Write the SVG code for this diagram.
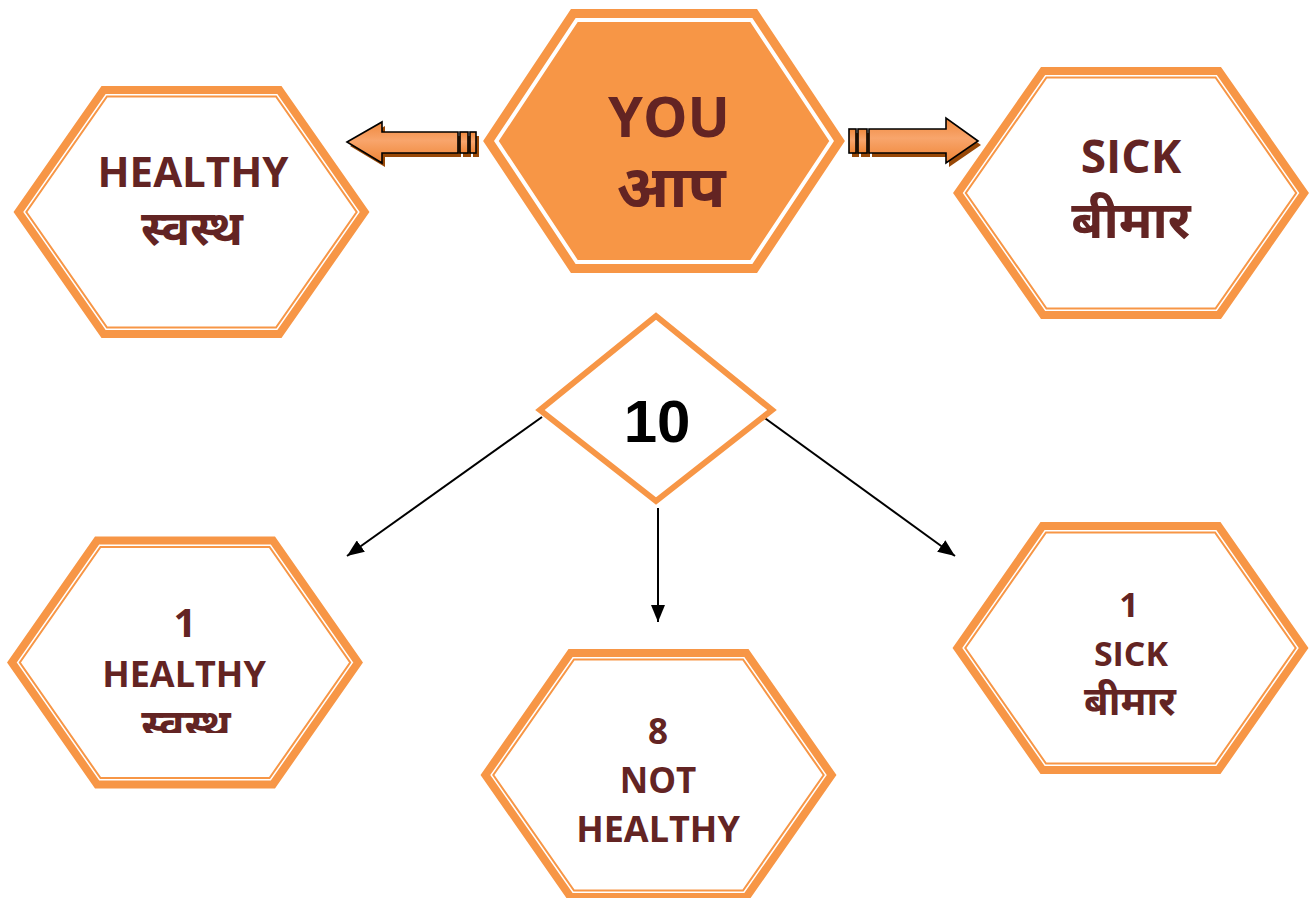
<svg xmlns="http://www.w3.org/2000/svg" width="1314" height="898" viewBox="0 0 1314 898">
<style>
.o{fill:#fff;stroke:#F79646;stroke-width:8;stroke-linejoin:miter}
.i{fill:none;stroke:#F79646;stroke-width:2}
.yo{fill:#F79646;stroke:#F79646;stroke-width:8}
.yi{fill:none;stroke:#fff;stroke-width:4}
.t{font-family:"Open Sans","Noto Sans Devanagari","Noto Sans",sans-serif;font-weight:bold;fill:#632423;text-anchor:middle}
.ba{fill:url(#g);stroke:#000;stroke-width:1.6;stroke-linejoin:miter}
.sh{fill:#984807}
.c{stroke:#000;stroke-width:2;fill:none;marker-end:url(#ah)}
</style>
<defs>
<linearGradient id="g" x1="0" y1="0" x2="0" y2="1">
<stop offset="0" stop-color="#F0883C"/>
<stop offset="0.45" stop-color="#F8A56C"/>
<stop offset="1" stop-color="#EF8434"/>
</linearGradient>
<polygon id="hO" points="-87.9,-122 87.9,-122 173.1,0 87.9,122 -87.9,122 -173.1,0"/>
<polygon id="hI" points="-84.5,-115.5 84.5,-115.5 165.2,0 84.5,115.5 -84.5,115.5 -165.2,0"/>
<marker id="ah" viewBox="0 0 17 14" refX="17" refY="7" markerWidth="17" markerHeight="14" orient="auto" markerUnits="userSpaceOnUse">
<path d="M0,0 L17,7 L0,14 Z" fill="#000"/>
</marker>
<clipPath id="cYou"><rect x="560" y="150" width="220" height="57"/></clipPath>
<clipPath id="cH2"><rect x="100" y="690" width="180" height="43"/></clipPath>
</defs>

<g id="connectors">
<line class="c" x1="542" y1="417" x2="347" y2="556"/>
<line class="c" x1="658" y1="508" x2="658" y2="622"/>
<line class="c" x1="762" y1="416" x2="955" y2="556"/>
</g>

<g id="arrow-left">
<path class="sh" transform="translate(3,4)" d="M347,142 L382,122 L382,132 L458,132 L458,153 L382,153 L382,163 Z M460,132 h8 v21 h-8 Z M470,132 h6 v21 h-6 Z"/>
<path class="ba" d="M347,142 L382,122 L382,132 L458,132 L458,153 L382,153 L382,163 Z"/>
<rect class="ba" x="460" y="132" width="8" height="21"/>
<rect class="ba" x="470" y="132" width="6" height="21"/>
</g>

<g id="arrow-right">
<path class="sh" transform="translate(3,4)" d="M978,141 L946,118 L946,129 L869,129 L869,153 L946,153 L946,163 Z M849,129 h7 v24 h-7 Z M858,129 h9 v24 h-9 Z"/>
<path class="ba" d="M978,141 L946,118 L946,129 L869,129 L869,153 L946,153 L946,163 Z"/>
<rect class="ba" x="849" y="129" width="7" height="24"/>
<rect class="ba" x="858" y="129" width="9" height="24"/>
</g>

<g id="you">
<polygon class="yo" points="573.1,13 754.9,13 840.1,141 754.9,269 573.1,269 487.9,141"/>
<polygon class="yi" points="576.7,20 751.3,20 831.6,141 751.3,262 576.7,262 496.4,141"/>
<text class="t" x="669" y="137" font-size="56">YOU</text>
<text class="t" x="671" y="210" font-size="62" clip-path="url(#cYou)">आप</text>
</g>

<g id="healthy">
<use href="#hO" class="o" transform="translate(191.5,212)"/>
<use href="#hI" class="i" transform="translate(191.5,212)"/>
<text class="t" x="193" y="187" font-size="42">HEALTHY</text>
<text class="t" x="192" y="245" font-size="48">स्वस्थ</text>
</g>

<g id="sick">
<use href="#hO" class="o" transform="translate(1131,193)"/>
<use href="#hI" class="i" transform="translate(1131,193)"/>
<text class="t" x="1131" y="173" font-size="46">SICK</text>
<text class="t" x="1131" y="238" font-size="52">बीमार</text>
</g>

<g id="ten">
<polygon points="656,316 772,410 656,501 540,410" fill="#fff" stroke="#F79646" stroke-width="6"/>
<text x="657" y="442" font-family="'Liberation Sans',Arial,sans-serif" font-weight="bold" font-size="60" text-anchor="middle" fill="#000">10</text>
</g>

<g id="one-healthy">
<use href="#hO" class="o" transform="translate(185,662.5)"/>
<use href="#hI" class="i" transform="translate(185,662.5)"/>
<text class="t" x="185" y="637" font-size="40">1</text>
<text class="t" x="184" y="687" font-size="36">HEALTHY</text>
<text class="t" x="186" y="739" font-size="42" clip-path="url(#cH2)">स्वस्थ</text>
</g>

<g id="eight-not-healthy">
<use href="#hO" class="o" transform="translate(658.5,775)"/>
<use href="#hI" class="i" transform="translate(658.5,775)"/>
<text class="t" x="658" y="744" font-size="35">8</text>
<text class="t" x="658" y="793" font-size="35">NOT</text>
<text class="t" x="658" y="842" font-size="36">HEALTHY</text>
</g>

<g id="one-sick">
<use href="#hO" class="o" transform="translate(1130.5,648)"/>
<use href="#hI" class="i" transform="translate(1130.5,648)"/>
<text class="t" x="1129" y="617" font-size="34">1</text>
<text class="t" x="1131" y="666" font-size="34">SICK</text>
<text class="t" x="1130" y="715" font-size="40">बीमार</text>
</g>
</svg>
